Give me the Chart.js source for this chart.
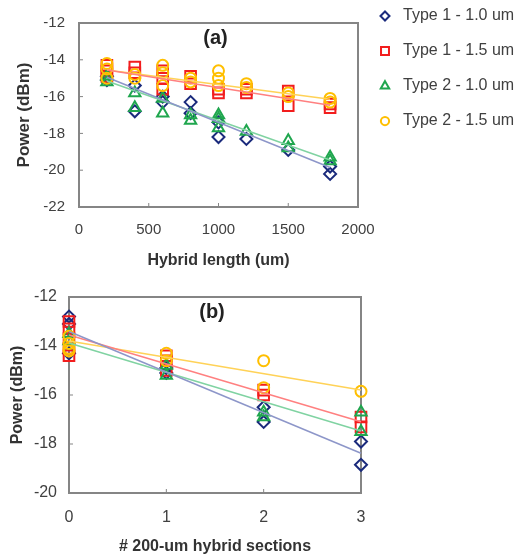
<!DOCTYPE html>
<html>
<head>
<meta charset="utf-8">
<script src="https://cdn.jsdelivr.net/npm/chart.js@4.4.0/dist/chart.umd.min.js"></script>
<style>
  body { margin: 0; background: #fff; }
  .box { position: absolute; left: 0; }
  #boxA { top: 0; width: 527px; height: 270px; }
  #boxB { top: 275px; width: 400px; height: 284px; }
</style>
</head>
<body>
<div class="box" id="boxA"><canvas id="chartA"></canvas></div>
<div class="box" id="boxB"><canvas id="chartB"></canvas></div>
<script>
const seriesLabels = ['Type 1 - 1.0 um', 'Type 1 - 1.5 um', 'Type 2 - 1.0 um', 'Type 2 - 1.5 um'];
const markerColors = ['#1a2a7c', '#f21d1d', '#1fa64e', '#ffbf00'];
const fitColors = ['#8d96c9', '#ff8080', '#80d3a2', '#ffd257'];
const markerStyles = ['rectRot', 'rect', 'triangle', 'circle'];
const markerSizes = [6, 7.5, 6.5, 5.5];

// (a) power vs hybrid length, a few devices per length
const lengths = [200, 400, 600, 800, 1000, 1200, 1500, 1800];
const aType1_10 = [[-14.9, -15.1], [-15.4, -16.8], [-16.0, -16.3], [-16.3, -16.9], [-17.4, -18.2], [-18.3], [-18.9], [-19.8, -20.2]];
const aType1_15 = [[-14.3, -14.6, -14.9], [-14.4, -14.7], [-14.6, -15.0, -15.6], [-14.9, -15.3], [-15.6, -15.8], [-15.6, -15.8], [-15.7, -16.5], [-16.4, -16.6]];
const aType2_10 = [[-14.9, -15.2], [-15.8, -16.6], [-16.1, -16.9], [-17.0, -17.3], [-17.0, -17.2, -17.7], [-17.9], [-18.4, -18.8], [-19.3, -19.5]];
const aType2_15 = [[-14.2, -14.5, -15.0], [-14.8, -15.0], [-14.3, -14.7, -15.4], [-15.0, -15.2], [-14.6, -15.0, -15.4], [-15.3, -15.5], [-15.8, -16.0], [-16.1, -16.3]];
const aFitLengths = [200, 1800];
const aFits = [[-14.95, -19.85], [-14.55, -16.47], [-15.15, -19.45], [-14.55, -16.15]];

// (b) power vs number of 200-um hybrid sections
const sections = [0, 1, 2, 3];
const bType1_10 = [[-12.8, -13.1, -14.3], [-14.9, -15.1], [-16.5, -17.1], [-17.9, -18.85]];
const bType1_15 = [[-13.0, -13.3, -13.7, -14.1, -14.4], [-14.4, -14.6, -15.0], [-15.8, -16.0], [-16.9, -17.3]];
const bType2_10 = [[-13.5, -13.8], [-14.8, -15.2], [-16.7, -16.9], [-16.7, -17.5]];
const bType2_15 = [[-13.6, -13.9, -14.1, -14.2], [-14.3, -14.6], [-14.6, -15.7], [-15.85]];
const bFitSections = [0, 3];
const bFits = [[-13.41, -18.38], [-13.55, -17.09], [-13.88, -17.47], [-13.8, -15.8]];

Chart.defaults.font.family = 'Arial, "Liberation Sans", sans-serif';
Chart.defaults.color = '#404040';

const toPoints = (xs, groups) => xs.flatMap((x, i) => groups[i].map((y) => ({ x, y })));

const buildDatasets = (xs, groups, fitXs, fits) => {
  const markers = groups.map((g, i) => ({
    label: seriesLabels[i],
    data: toPoints(xs, g),
    pointStyle: markerStyles[i],
    pointRadius: markerSizes[i],
    pointBorderWidth: 2,
    borderColor: markerColors[i],
    backgroundColor: 'rgba(0,0,0,0)',
    showLine: false,
    clip: false,
    order: 4 - i,
  }));
  const lines = fits.map((f, i) => ({
    label: seriesLabels[i] + ' fit',
    data: fitXs.map((x, j) => ({ x, y: f[j] })),
    showLine: true,
    borderColor: fitColors[i],
    borderWidth: 1.5,
    pointRadius: 0,
    clip: false,
    order: 0,
  }));
  return [...markers, ...lines];
};

// plot box, inward tick marks and the (a)/(b) tag
const framePlugin = {
  id: 'frame',
  beforeDatasetsDraw(chart, args, opts) {
    const { ctx, chartArea: { left, right, top, bottom }, scales } = chart;
    ctx.save();
    ctx.strokeStyle = '#858585';
    ctx.lineWidth = 2;
    ctx.strokeRect(left, top, right - left, bottom - top);
    ctx.lineWidth = 1;
    ctx.beginPath();
    scales.x.ticks.forEach((t) => {
      const px = scales.x.getPixelForValue(t.value);
      if (px > left + 2 && px < right - 2) { ctx.moveTo(px, bottom); ctx.lineTo(px, bottom - 4); }
    });
    scales.y.ticks.forEach((t) => {
      const py = scales.y.getPixelForValue(t.value);
      if (py > top + 2 && py < bottom - 2) { ctx.moveTo(left, py); ctx.lineTo(left + 4, py); }
    });
    ctx.stroke();
    ctx.fillStyle = '#222';
    ctx.font = 'bold 20px Arial, "Liberation Sans", sans-serif';
    ctx.textAlign = 'center';
    ctx.textBaseline = 'middle';
    ctx.fillText(opts.text, (left + right) / 2 - 3, top + 15);
    ctx.restore();
  },
};

// legend to the right of panel (a)
const sideLegend = {
  id: 'sideLegend',
  afterDraw(chart, args, opts) {
    if (!opts.show) return;
    const { ctx } = chart;
    ctx.save();
    ctx.font = '16px Arial, "Liberation Sans", sans-serif';
    ctx.textBaseline = 'middle';
    seriesLabels.forEach((label, i) => {
      const y = opts.y + i * opts.step;
      ctx.strokeStyle = markerColors[i];
      ctx.fillStyle = 'rgba(0,0,0,0)';
      ctx.lineWidth = 2;
      Chart.helpers.drawPoint(ctx, { pointStyle: markerStyles[i], radius: markerSizes[i] * 0.75, borderWidth: 2, rotation: 0 }, opts.x, y);
      ctx.fillStyle = '#404040';
      ctx.fillText(label, opts.x + 18, y);
    });
    ctx.restore();
  },
};

const makeChart = (id, cfg) => new Chart(document.getElementById(id), {
  type: 'scatter',
  data: { datasets: buildDatasets(cfg.xs, cfg.groups, cfg.fitXs, cfg.fits) },
  options: {
    responsive: true,
    maintainAspectRatio: false,
    animation: false,
    layout: { padding: cfg.padding },
    plugins: {
      legend: { display: false },
      tooltip: { enabled: false },
      frame: { text: cfg.tag },
      sideLegend: cfg.legend,
    },
    scales: {
      x: {
        type: 'linear',
        min: cfg.xMin, max: cfg.xMax,
        ticks: { stepSize: cfg.xStep, padding: cfg.xPad, font: { size: cfg.tickSize }, format: { useGrouping: false } },
        grid: { display: false, drawTicks: false },
        border: { display: false },
        title: { display: true, text: cfg.xTitle, color: '#333', font: { size: 16, weight: 'bold' }, padding: { top: 0, bottom: cfg.xTitlePad } },
        afterFit: (scale) => { scale.height = cfg.xHeight; },
      },
      y: {
        min: cfg.yMin, max: cfg.yMax,
        ticks: { stepSize: 2, padding: cfg.yPad, font: { size: cfg.tickSize } },
        grid: { display: false, drawTicks: false },
        border: { display: false },
        title: { display: true, text: 'Power (dBm)', color: '#333', font: { size: cfg.yTitleSize, weight: 'bold' }, padding: { top: cfg.yTitlePad, bottom: 0 } },
        afterFit: (scale) => { scale.width = cfg.yWidth; },
      },
    },
  },
  plugins: [framePlugin, sideLegend],
});

makeChart('chartA', {
  xs: lengths, groups: [aType1_10, aType1_15, aType2_10, aType2_15], fitXs: aFitLengths, fits: aFits,
  tag: '(a)', legend: { show: true, x: 385, y: 16, step: 35 },
  padding: { top: 10, right: 169, bottom: 0, left: 0 },
  xMin: 0, xMax: 2000, xStep: 500, xPad: 14, xTitle: 'Hybrid length (um)', xTitlePad: 0, xHeight: 63,
  yMin: -22, yMax: -12, yPad: 14, yTitleSize: 17, yTitlePad: 14, yWidth: 79, tickSize: 15,
});

makeChart('chartB', {
  xs: sections, groups: [bType1_10, bType1_15, bType2_10, bType2_15], fitXs: bFitSections, fits: bFits,
  tag: '(b)', legend: { show: false },
  padding: { top: 22, right: 39, bottom: 0, left: 0 },
  xMin: 0, xMax: 3, xStep: 1, xPad: 15, xTitle: '# 200-um hybrid sections', xTitlePad: 3, xHeight: 66,
  yMin: -20, yMax: -12, yPad: 12, yTitleSize: 16, yTitlePad: 8, yWidth: 69, tickSize: 16,
});
</script>
</body>
</html>
